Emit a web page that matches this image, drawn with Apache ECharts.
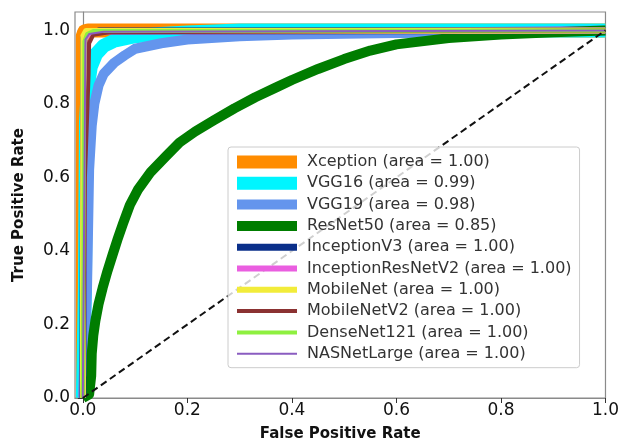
<!DOCTYPE html>
<html>
<head>
<meta charset="utf-8">
<script src="https://cdn.jsdelivr.net/npm/echarts@6/dist/echarts.min.js"></script>
<style>html,body{margin:0;padding:0;background:#fff}#c{width:622px;height:447px}</style>
</head>
<body>
<div id="c"></div>
<script>
// ---- data ----
const modelNames = ['Xception','VGG16','VGG19','ResNet50','InceptionV3','InceptionResNetV2','MobileNet','MobileNetV2','DenseNet121','NASNetLarge'];
const modelAUC = ['1.00','0.99','0.98','0.85','1.00','1.00','1.00','1.00','1.00','1.00'];
const xTickValues = [0, 0.2, 0.4, 0.6, 0.8, 1.0];
const yTickValues = [0, 0.2, 0.4, 0.6, 0.8, 1.0];

const xceptionFpr = [0, 0, 0.003, 0.01, 1];
const xceptionTpr = [0, 0.985, 0.997, 1, 1];
const vgg16Fpr = [0, 0.004, 0.006, 0.01, 0.015, 0.025, 0.04, 0.06, 0.1, 0.15, 0.2, 0.25, 0.3, 1];
const vgg16Tpr = [0, 0.3, 0.75, 0.85, 0.9, 0.935, 0.958, 0.972, 0.984, 0.99, 0.994, 0.997, 1, 1];
const vgg19Fpr = [0, 0.008, 0.012, 0.017, 0.022, 0.03, 0.04, 0.06, 0.08, 0.1, 0.15, 0.2, 0.3, 0.4, 0.6, 0.8, 1];
const vgg19Tpr = [0, 0.3, 0.62, 0.74, 0.8, 0.85, 0.882, 0.912, 0.932, 0.95, 0.965, 0.975, 0.984, 0.989, 0.993, 0.996, 1];
const resnet50Fpr = [0, 0.012, 0.016, 0.017, 0.02, 0.024, 0.03, 0.038, 0.047, 0.057, 0.066, 0.077, 0.09, 0.106, 0.13, 0.16, 0.185, 0.215, 0.25, 0.29, 0.33, 0.37, 0.4, 0.45, 0.5, 0.55, 0.6, 0.7, 0.8, 0.9, 1];
const resnet50Tpr = [0, 0.01, 0.06, 0.12, 0.17, 0.21, 0.255, 0.3, 0.345, 0.39, 0.43, 0.475, 0.525, 0.568, 0.615, 0.659, 0.695, 0.725, 0.755, 0.788, 0.818, 0.845, 0.865, 0.895, 0.922, 0.945, 0.962, 0.979, 0.989, 0.995, 1];
const inceptionV3Fpr = [0, 0.002, 0.008, 0.03, 1];
const inceptionV3Tpr = [0, 0.98, 0.993, 0.998, 1];
const inceptionResNetV2Fpr = [0, 0.003, 0.01, 0.04, 1];
const inceptionResNetV2Tpr = [0, 0.975, 0.99, 0.997, 1];
const mobileNetFpr = [0, 0.001, 0.006, 1];
const mobileNetTpr = [0, 0.985, 0.998, 1];
const mobileNetV2Fpr = [0, 0.004, 0.011, 0.012, 0.02, 0.05, 1];
const mobileNetV2Tpr = [0, 0.6, 0.88, 0.965, 0.988, 0.995, 1];
const denseNet121Fpr = [0, 0.003, 0.008, 0.02, 1];
const denseNet121Tpr = [0, 0.97, 0.99, 0.998, 1];
const nasNetLargeFpr = [0, 0.005, 0.012, 0.04, 1];
const nasNetLargeTpr = [0, 0.975, 0.99, 0.996, 1];
const chanceFpr = [0, 1];
const chanceTpr = [0, 1];

const fprs = [xceptionFpr, vgg16Fpr, vgg19Fpr, resnet50Fpr, inceptionV3Fpr, inceptionResNetV2Fpr, mobileNetFpr, mobileNetV2Fpr, denseNet121Fpr, nasNetLargeFpr];
const tprs = [xceptionTpr, vgg16Tpr, vgg19Tpr, resnet50Tpr, inceptionV3Tpr, inceptionResNetV2Tpr, mobileNetTpr, mobileNetV2Tpr, denseNet121Tpr, nasNetLargeTpr];

// ---- styles ----
const colors = ['#ff8c00','#00f5ff','#6495ed','#007d00','#0a2f8a','#ea5ee0','#f2ec3a','#8b3232','#8ef040','#8a5cc0'];
const widths = [14, 14, 10, 10, 7, 6, 6, 4, 4, 2];
const legendHeights = [13, 13, 10, 10, 7, 6, 6, 4, 4, 2];
const zip = (a, b) => a.map((v, i) => [v, b[i]]);
const labelOf = i => modelNames[i] + ' (area = ' + modelAUC[i] + ')';

const series = modelNames.map((n, i) => ({
  name: labelOf(i),
  type: 'line',
  data: zip(fprs[i], tprs[i]),
  showSymbol: false,
  symbol: 'none',
  lineStyle: { color: colors[i], width: widths[i], join: 'round' },
  itemStyle: { color: colors[i] },
  emphasis: { disabled: true },
  z: 2 + i * 0.01,
  animation: false
}));
series.push({
  name: 'chance',
  type: 'line',
  data: zip(chanceFpr, chanceTpr),
  showSymbol: false,
  symbol: 'none',
  lineStyle: { color: '#111', width: 2, type: [7, 4] },
  z: 3,
  animation: false
});

const chart = echarts.init(document.getElementById('c'), null, { renderer: 'canvas' });
chart.setOption({
  animation: false,
  backgroundColor: '#fff',
  grid: { left: 75, right: 15, top: 12, bottom: 47, show: true, borderColor: '#8a8a8a', borderWidth: 1.2, backgroundColor: 'transparent' },
  xAxis: {
    type: 'value', min: -0.015, max: 1.0,
    name: 'False Positive Rate', nameLocation: 'middle', nameGap: 29,
    nameTextStyle: { fontFamily: 'DejaVu Sans', fontWeight: 'bold', fontSize: 15, color: '#111' },
    axisLine: { show: true, lineStyle: { color: '#8a8a8a', width: 1.2 } },
    axisTick: { show: true, inside: false, length: 5, customValues: xTickValues, lineStyle: { color: '#333' } },
    axisLabel: { customValues: xTickValues, formatter: v => v.toFixed(1), fontFamily: 'DejaVu Sans', fontSize: 17, color: '#111', margin: 4 },
    splitLine: { show: false }
  },
  yAxis: {
    type: 'value', min: 0, max: 1.05,
    name: 'True Positive Rate', nameLocation: 'middle', nameGap: 48,
    nameTextStyle: { fontFamily: 'DejaVu Sans', fontWeight: 'bold', fontSize: 15, color: '#111' },
    axisLine: { show: true, lineStyle: { color: '#8a8a8a', width: 1.2 } },
    axisTick: { show: true, inside: false, length: 5, customValues: yTickValues, lineStyle: { color: '#333' } },
    axisLabel: { customValues: yTickValues, formatter: v => v.toFixed(1), fontFamily: 'DejaVu Sans', fontSize: 17, color: '#111', margin: 5 },
    splitLine: { show: false }
  },
  legend: {
    data: modelNames.map((n, i) => ({
      name: labelOf(i),
      icon: 'path://M0 0H60V' + legendHeights[i] + 'H0Z',
      itemStyle: { color: colors[i] }
    })),
    orient: 'vertical',
    left: 228, top: 147,
    padding: [7, 8, 6, 9],
    itemWidth: 60, itemHeight: 14, itemGap: 5.3,
    symbolKeepAspect: true,
    backgroundColor: 'rgba(255,255,255,0.8)',
    borderColor: '#cccccc', borderWidth: 1, borderRadius: 3,
    selectedMode: false,
    textStyle: { fontFamily: 'DejaVu Sans', fontSize: 16, lineHeight: 14, color: '#333', padding: [0, 0, 0, 5] },
    z: 10
  },
  series: series
});
</script>
</body>
</html>
